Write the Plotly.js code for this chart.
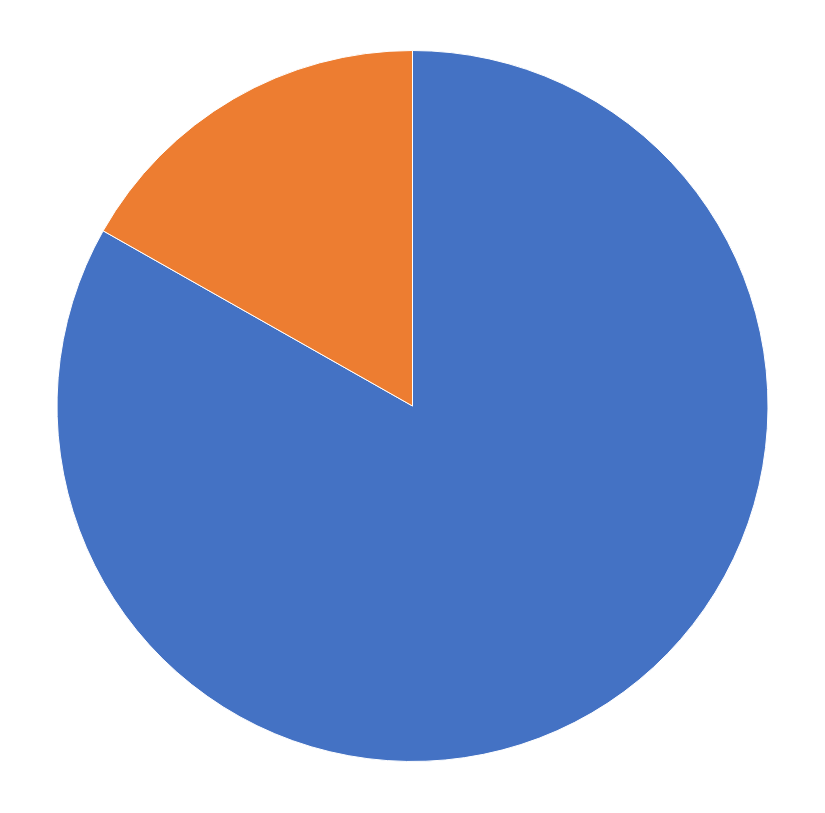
<!DOCTYPE html>
<html>
<head>
<meta charset="utf-8">
<script src="https://cdn.plot.ly/plotly-3.0.1.min.js"></script>
<style>
  html, body { margin: 0; padding: 0; background: #fff; }
  #chart { width: 825px; height: 813px; }
</style>
</head>
<body>
<div id="chart"></div>
<script>
const labels = ["A", "B"];
const values = [83.2, 16.8];
const colors = ["#4472C4", "#ED7D31"];

const data = [
  {
    type: "pie",
    labels: labels,
    values: values,
    sort: false,
    direction: "clockwise",
    rotation: 0,
    marker: { colors: colors, line: { color: "#ffffff", width: 1 } },
    textinfo: "none",
    hoverinfo: "none",
  },
];

const layout = {
  width: 825,
  height: 813,
  margin: { l: 57, r: 57, t: 50, b: 51 },
  showlegend: false,
  paper_bgcolor: "#ffffff",
};

Plotly.newPlot("chart", data, layout, { staticPlot: true });
</script>
</body>
</html>
